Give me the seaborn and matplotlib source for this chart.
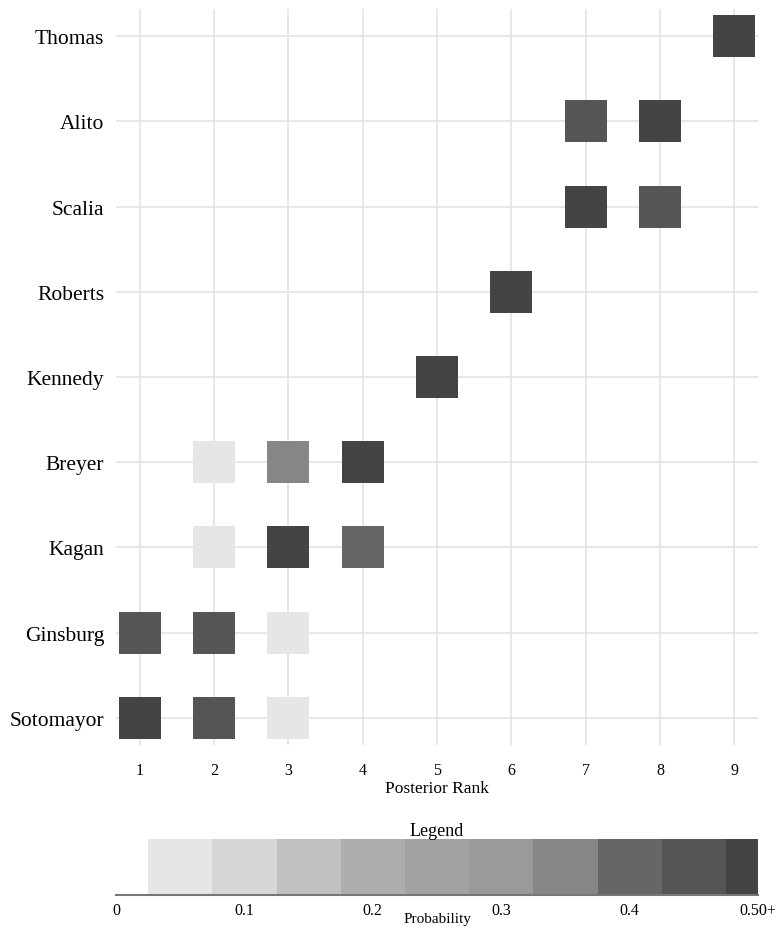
import numpy as np
import pandas as pd
import matplotlib
matplotlib.use('Agg')
import matplotlib.pyplot as plt
import seaborn as sns

# justices from top row to bottom row
justices = ['Thomas', 'Alito', 'Scalia', 'Roberts', 'Kennedy',
            'Breyer', 'Kagan', 'Ginsburg', 'Sotomayor']

# posterior rank probabilities (only cells that show a square)
cell_justice = ['Thomas', 'Alito', 'Alito', 'Scalia', 'Scalia', 'Roberts', 'Kennedy',
                'Breyer', 'Breyer', 'Breyer', 'Kagan', 'Kagan', 'Kagan',
                'Ginsburg', 'Ginsburg', 'Ginsburg', 'Sotomayor', 'Sotomayor', 'Sotomayor']
cell_rank = [9, 7, 8, 7, 8, 6, 5,
             2, 3, 4, 2, 3, 4,
             1, 2, 3, 1, 2, 3]
cell_prob = [1.00, 0.45, 0.55, 0.55, 0.45, 1.00, 1.00,
             0.05, 0.35, 0.60, 0.05, 0.55, 0.40,
             0.47, 0.47, 0.06, 0.52, 0.43, 0.05]

# binned greyscale palette for probability (0.05 steps, last bin is 0.50+)
bin_centers = [0.05, 0.10, 0.15, 0.20, 0.25, 0.30, 0.35, 0.40, 0.45, 0.50]
bin_colors = ['#e6e6e6', '#d6d6d6', '#c0c0c0', '#aeaeae', '#a2a2a2',
              '#9a9a9a', '#868686', '#666666', '#555555', '#444444']
legend_ticks = [0, 0.1, 0.2, 0.3, 0.4, 0.5]
legend_ticklabels = ['0', '0.1', '0.2', '0.3', '0.4', '0.50+']

sns.set_style('white')
plt.rcParams['font.family'] = ['Liberation Serif', 'DejaVu Serif']
plt.rcParams['text.color'] = 'black'
plt.rcParams['xtick.color'] = 'black'
plt.rcParams['ytick.color'] = 'black'
plt.rcParams['axes.labelcolor'] = 'black'

df = pd.DataFrame({'justice': cell_justice, 'rank': cell_rank, 'prob': cell_prob})
df['row'] = df['justice'].map({j: len(justices) - i for i, j in enumerate(justices)})
df['bin'] = np.clip(np.round(df['prob'] / 0.05).astype(int), 1, 10)
palette = {i + 1: c for i, c in enumerate(bin_colors)}

fig = plt.figure(figsize=(7.78, 9.28), dpi=100)
ax = fig.add_axes([116 / 778, 1 - 746 / 928, 642 / 778, 736 / 928])

sns.scatterplot(data=df, x='rank', y='row', hue='bin', palette=palette,
                marker='s', s=914, linewidth=0, legend=False, ax=ax, zorder=3)

ax.set_xlim(0.68, 9.32)
ax.set_ylim(0.68, 9.32)
ax.set_xticks(range(1, 10))
ax.set_yticks(range(1, len(justices) + 1))
ax.set_yticklabels(justices[::-1], fontsize=15.5)
ax.tick_params(axis='x', length=0, pad=12, labelsize=11.5)
ax.tick_params(axis='y', length=0, pad=8.5)
ax.grid(True, color='#e0e0e0', linewidth=1.1, zorder=0)
ax.set_axisbelow(True)
for sp in ax.spines.values():
    sp.set_visible(False)
ax.set_xlabel('Posterior Rank', fontsize=12.5, labelpad=2)
ax.set_ylabel('')

# legend strip
lax = fig.add_axes([116 / 778, 1 - 896 / 928, 642 / 778, 56 / 928])
lefts = [c - 0.025 for c in bin_centers]
widths = [0.05] * 9 + [0.025]
lax.bar(lefts, [1] * len(lefts), width=widths, align='edge', color=bin_colors,
        linewidth=0)
lax.set_xlim(0, 0.5)
lax.set_ylim(0, 1)
lax.set_yticks([])
lax.set_xticks(legend_ticks)
lax.set_xticklabels(legend_ticklabels, fontsize=11.5)
lax.tick_params(axis='x', direction='out', length=4, width=1, color='#777777', pad=1)
for s in ['top', 'left', 'right']:
    lax.spines[s].set_visible(False)
lax.spines['bottom'].set_color('#777777')
lax.spines['bottom'].set_linewidth(1.5)
lax.set_title('Legend', fontsize=13, pad=3)
lax.set_xlabel('Probability', fontsize=11, labelpad=-4)

fig.savefig('out.png', dpi=100)
